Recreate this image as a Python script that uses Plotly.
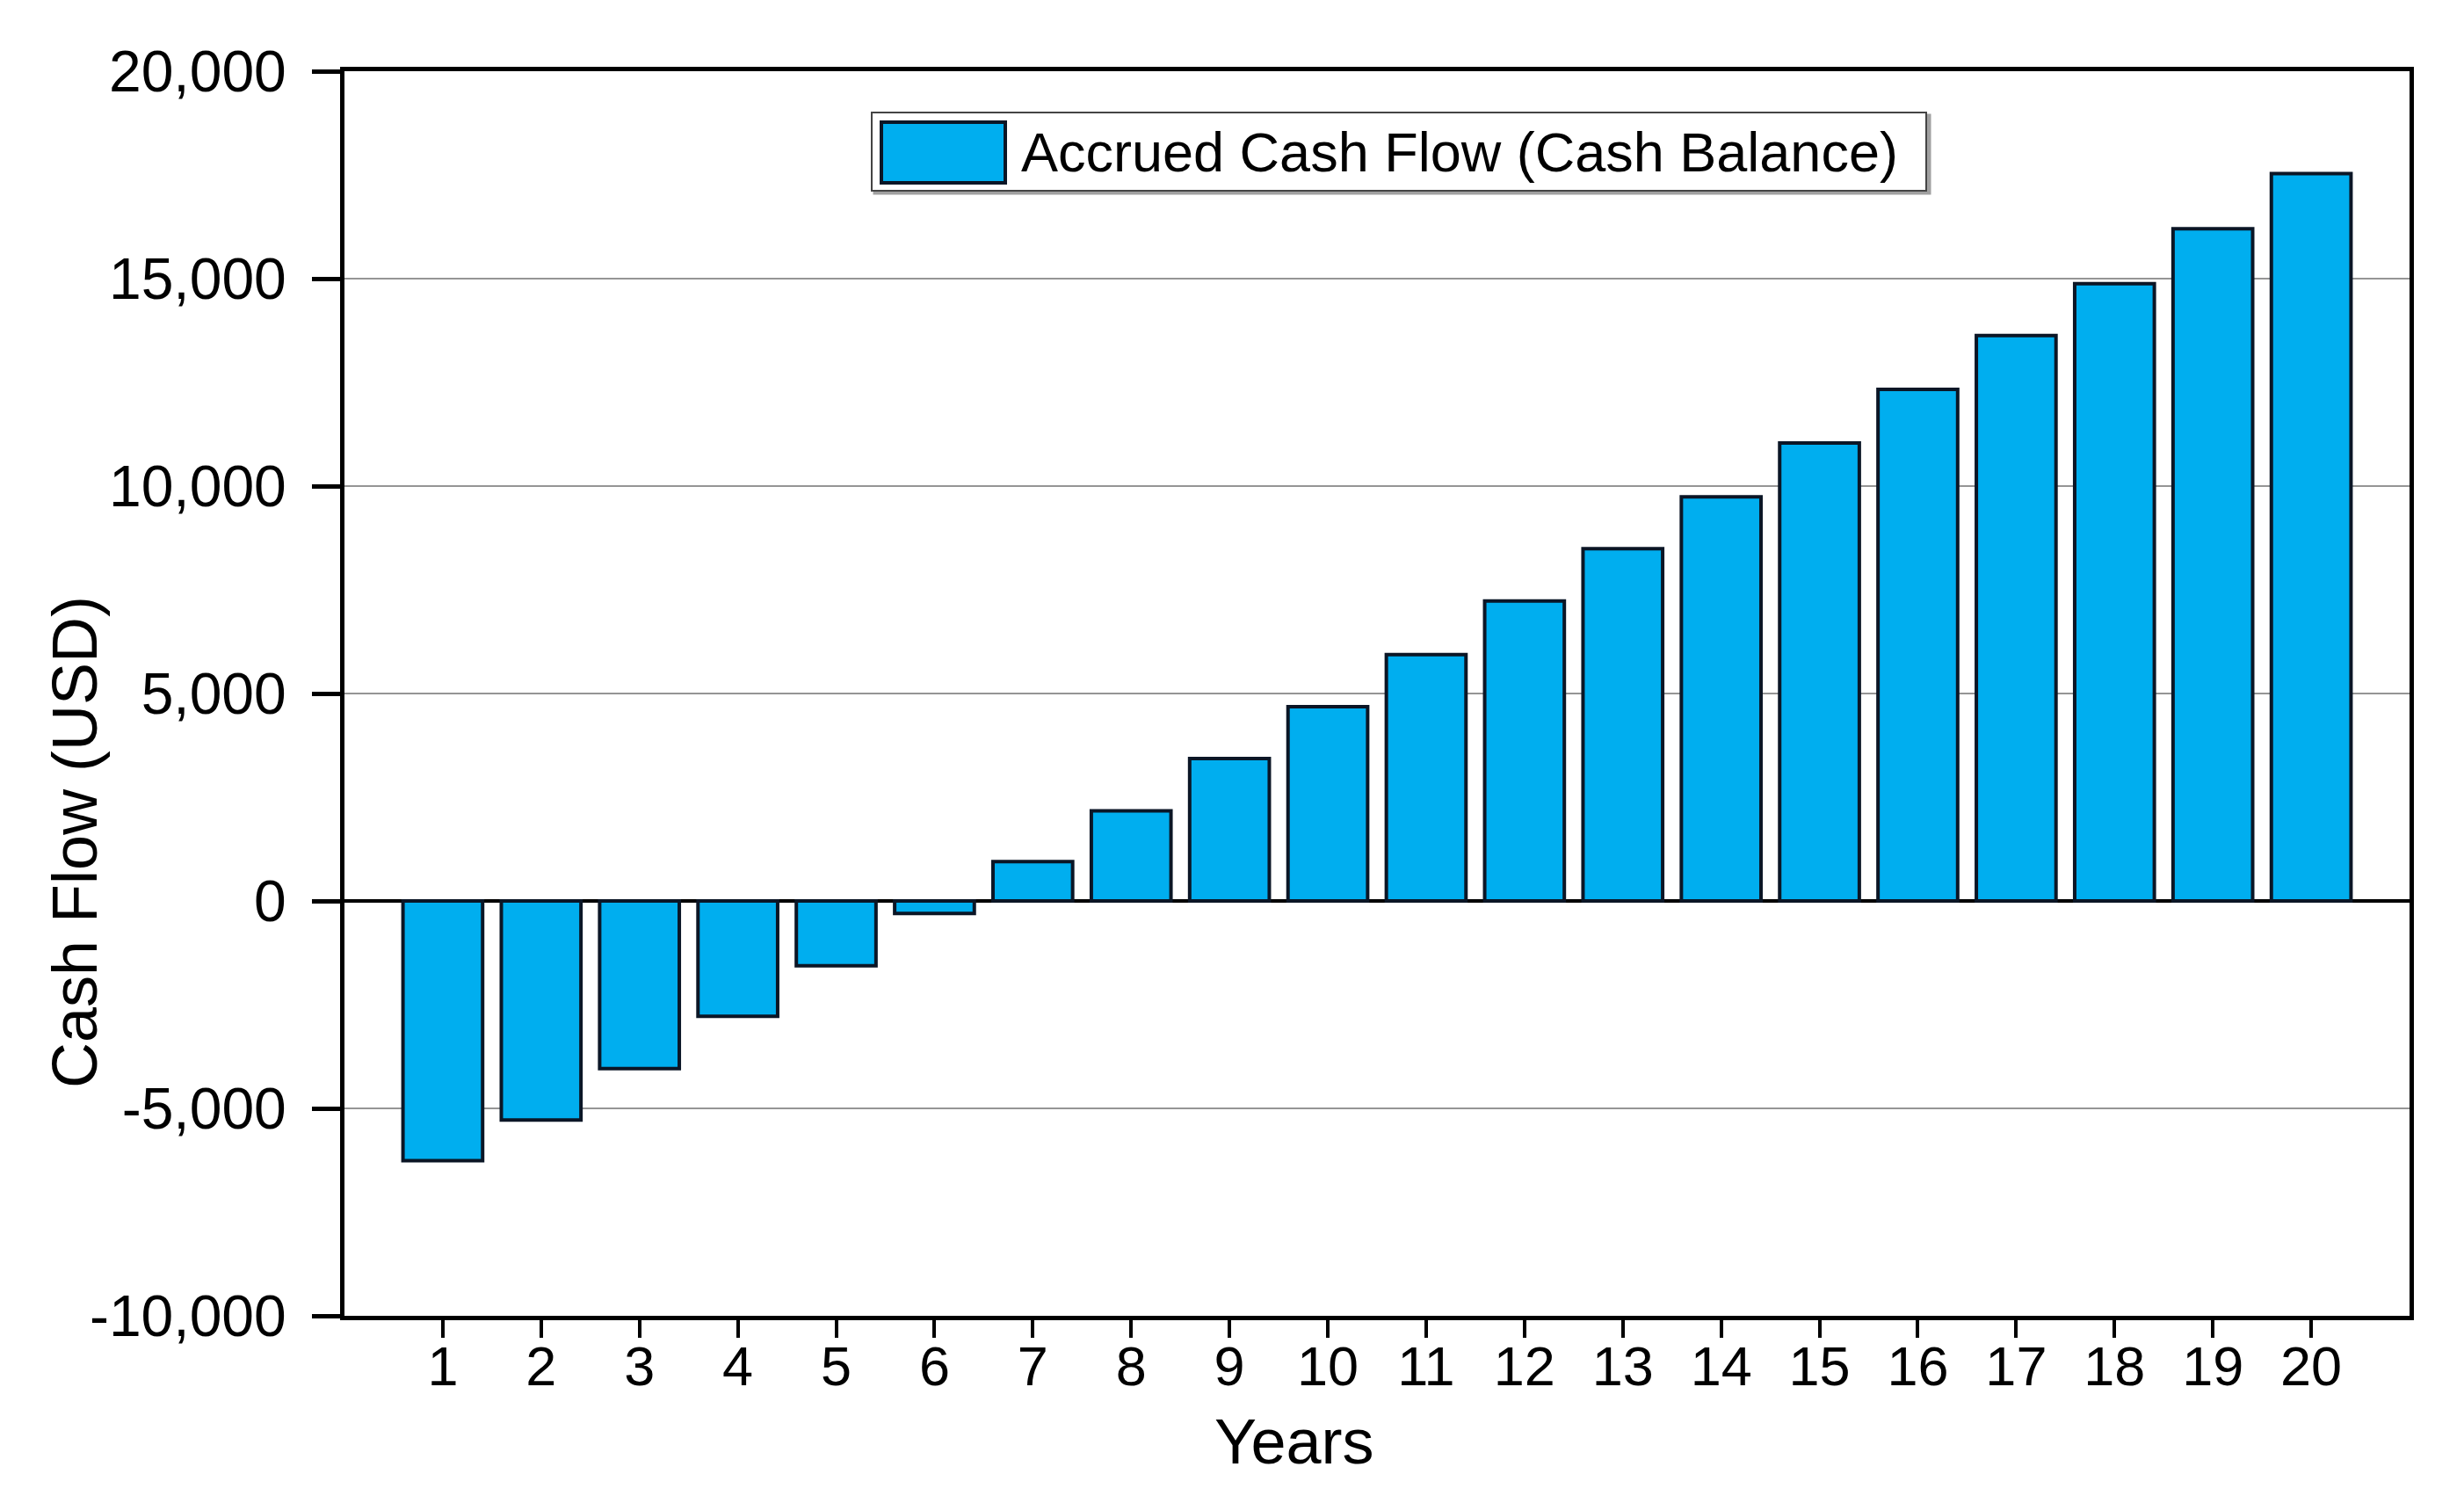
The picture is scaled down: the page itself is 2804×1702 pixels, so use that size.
import plotly.graph_objects as go

years = list(range(1, 21))
cash_balance = [-6260, -5280, -4040, -2780, -1560, -300, 950, 2170, 3430, 4680,
                5940, 7230, 8490, 9740, 11040, 12330, 13630, 14880, 16200, 17530]
y_tick_vals = [-10000, -5000, 0, 5000, 10000, 15000, 20000]
y_tick_text = ["-10,000", "-5,000", "0", "5,000", "10,000", "15,000", "20,000"]
series_name = "Accrued Cash Flow (Cash Balance)"

# page body has an 8px default margin; compensate so the figure lands where the reference is
OFF = 8
W, H = 2804, 1702
L, R, T, B = 392, 62, 81, 205
FW, FH = W - 2 * OFF, H - 2 * OFF - 4
ML, MR, MT = L - OFF, R - OFF, T - OFF
MB = FH - (H - B - OFF)
PW, PH = W - L - R, H - T - B

def px(x):
    return (x - L) / PW

def py(y):
    return (H - B - y) / PH

FONT = "Liberation Sans, Arial, sans-serif"
BAR_COLOR = "#00AEEF"
EDGE = "#0b1626"

fig = go.Figure()
fig.add_trace(go.Bar(
    x=years, y=cash_balance, width=0.81,
    marker=dict(color=BAR_COLOR, line=dict(color=EDGE, width=4)),
    name=series_name, showlegend=False,
))

fig.update_layout(
    width=FW, height=FH,
    margin=dict(l=ML, r=MR, t=MT, b=MB, pad=0),
    paper_bgcolor="white", plot_bgcolor="white",
    font=dict(family=FONT, color="black"),
    bargap=0.2,
)
fig.update_xaxes(
    range=[0, 21], tickvals=years, ticktext=[str(v) for v in years],
    ticks="outside", ticklen=20, tickwidth=4, tickcolor="black",
    tickfont=dict(size=63, family=FONT),
    showline=True, linecolor="black", linewidth=5, mirror=True,
    showgrid=False, zeroline=False, ticklabelstandoff=-22,
)
fig.update_yaxes(
    range=[-10000, 20000], tickvals=y_tick_vals, ticktext=y_tick_text,
    ticks="outside", ticklen=32, tickwidth=5, tickcolor="black",
    tickfont=dict(size=66, family=FONT),
    showline=True, linecolor="black", linewidth=5, mirror=True,
    showgrid=True, gridcolor="#959595", gridwidth=2,
    zeroline=True, zerolinecolor="black", zerolinewidth=4,
    ticklabelstandoff=16,
)

# Legend drawn as shapes + text (large swatch like the reference)
fig.add_shape(type="rect", xref="paper", yref="paper",
              x0=px(995), x1=px(2196), y0=py(220), y1=py(131),
              line=dict(color="#a0a0a0", width=3), fillcolor="#a0a0a0", layer="above")
fig.add_shape(type="rect", xref="paper", yref="paper",
              x0=px(992), x1=px(2192), y0=py(217), y1=py(128),
              line=dict(color="#444444", width=2), fillcolor="white", layer="above")
fig.add_shape(type="rect", xref="paper", yref="paper",
              x0=px(1003), x1=px(1144), y0=py(208), y1=py(139),
              line=dict(color=EDGE, width=4), fillcolor=BAR_COLOR, layer="above")
fig.add_annotation(xref="paper", yref="paper", x=px(1160), y=py(173),
                   xanchor="left", yanchor="middle", showarrow=False,
                   text=series_name, font=dict(size=63, family=FONT, color="black"))

# Axis titles
fig.add_annotation(xref="paper", yref="paper", x=px(1472), y=py(1640),
                   xanchor="center", yanchor="middle", showarrow=False,
                   text="Years", font=dict(size=72, family=FONT, color="black"))
fig.add_annotation(xref="paper", yref="paper", x=px(85), y=py(958),
                   xanchor="center", yanchor="middle", showarrow=False, textangle=-90,
                   text="Cash Flow (USD)", font=dict(size=72, family=FONT, color="black"))

fig.write_html("out.html")
